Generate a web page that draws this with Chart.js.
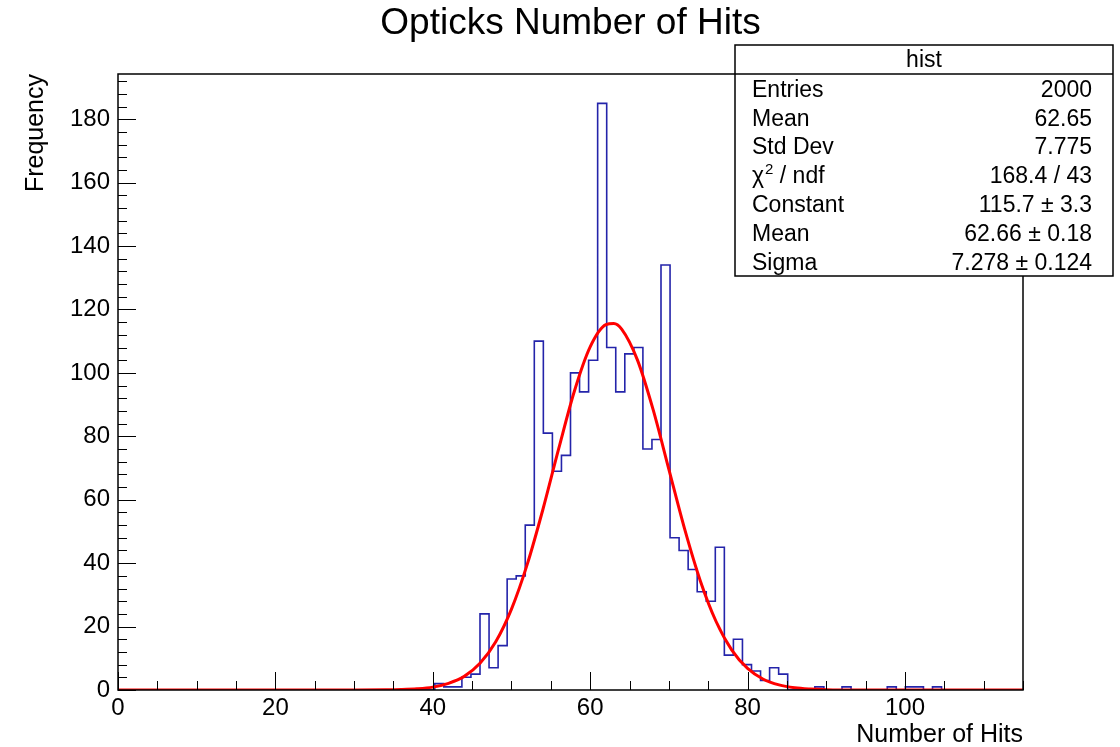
<!DOCTYPE html>
<html>
<head>
<meta charset="utf-8">
<script src="https://cdn.jsdelivr.net/npm/chart.js@4.4.1/dist/chart.umd.min.js"></script>
<style>
  html, body { margin: 0; background: #fff; }
  #wrap { width: 1120px; height: 747px; }
</style>
</head>
<body>
<div id="wrap"><canvas id="hitsChart"></canvas></div>
<script>
// histogram binning (100 bins from 0 to 115)
const xMin = 0;
const xMax = 115;
const nBins = 100;
const yMax = 194.25;

// bin contents, bin 0 .. bin 99
const counts = [
  0, 0, 0, 0, 0, 0, 0, 0, 0, 0,
  0, 0, 0, 0, 0, 0, 0, 0, 0, 0,
  0, 0, 0, 0, 0, 0, 0, 0, 0, 0,
  0, 0, 0, 0, 0, 2, 1, 1, 4, 5,
  24, 7, 14, 35, 36, 52, 110, 81, 69, 74,
  100, 94, 104, 185, 108, 94, 106, 108, 76, 79,
  134, 48, 44, 38, 31, 28, 45, 11, 16, 8,
  6, 3, 7, 5, 0, 0, 0, 1, 0, 0,
  1, 0, 0, 0, 0, 1, 0, 1, 1, 0,
  1, 0, 0, 0, 0, 0, 0, 0, 0, 0
];

// gaussian fit curve
const fitX = [0, 30, 34, 36, 38, 40, 42, 44, 46, 48, 50, 52, 54, 56, 58, 60, 62, 63, 64, 66, 68, 70, 72, 74, 76, 78, 80, 82, 84, 86, 88, 90, 94, 115];
const fitY = [0, 0, 0.05, 0.14, 0.37, 0.9, 2.1, 4.3, 8.4, 15.2, 25.5, 39.6, 57, 76.1, 94.3, 108.2, 115.2, 115.6, 113.8, 104.1, 88.4, 69.6, 50.8, 34.4, 21.6, 12.6, 6.8, 3.4, 1.6, 0.7, 0.3, 0.1, 0, 0];

// axis labels
const xTicks = [0, 20, 40, 60, 80, 100];
const yTicks = [0, 20, 40, 60, 80, 100, 120, 140, 160, 180];

// stats box
const statsTitle = "hist";
const statsLabels = ["Entries", "Mean", "Std Dev", "CHI2", "Constant", "Mean", "Sigma"];
const statsValues = ["2000", "62.65", "7.775", "168.4 / 43", "115.7 \u00b1 3.3", "62.66 \u00b1 0.18", "7.278 \u00b1 0.124"];

const FONT = "'Liberation Sans', Arial, Helvetica, sans-serif";

const binWidth = (xMax - xMin) / nBins;
const histPoints = counts.map((c, i) => ({ x: xMin + i * binWidth, y: c }));
histPoints.push({ x: xMax, y: counts[nBins - 1] });
const fitPoints = fitX.map((x, i) => ({ x: x, y: fitY[i] }));

// ROOT style frame with inward ticks
const framePlugin = {
  id: "frame",
  afterDatasetsDraw(chart) {
    const { ctx, chartArea: { left, right, top, bottom }, scales: { x, y } } = chart;
    ctx.save();
    ctx.strokeStyle = "#000";
    ctx.lineWidth = 1;
    ctx.beginPath();
    for (let v = xMin; v <= xMax + 1e-9; v += 5) {
      const px = Math.round(x.getPixelForValue(v)) + 0.5;
      const len = v % 20 === 0 ? 18 : 9;
      ctx.moveTo(px, bottom);
      ctx.lineTo(px, bottom - len);
    }
    for (let v = 0; v <= yMax; v += 4) {
      const py = Math.round(y.getPixelForValue(v)) + 0.5;
      const len = v % 20 === 0 ? 18 : 9;
      ctx.moveTo(left, py);
      ctx.lineTo(left + len, py);
    }
    ctx.stroke();
    ctx.lineWidth = 1.5;
    ctx.strokeRect(left, top, right - left, bottom - top);
    ctx.restore();
  }
};

const statsPlugin = {
  id: "stats",
  afterDraw(chart) {
    const ctx = chart.ctx;
    const bx = 735, by = 45, bw = 378, bh = 231, headH = 29;
    ctx.save();
    ctx.fillStyle = "#fff";
    ctx.fillRect(bx, by, bw, bh);
    ctx.strokeStyle = "#000";
    ctx.lineWidth = 1.5;
    ctx.strokeRect(bx, by, bw, bh);
    ctx.beginPath();
    ctx.moveTo(bx, by + headH);
    ctx.lineTo(bx + bw, by + headH);
    ctx.stroke();

    ctx.fillStyle = "#000";
    ctx.textBaseline = "middle";
    ctx.font = "23px " + FONT;
    ctx.textAlign = "center";
    ctx.fillText(statsTitle, bx + bw / 2, by + headH / 2 + 1);

    const rowH = (bh - headH) / statsLabels.length;
    statsLabels.forEach((lab, i) => {
      const cy = by + headH + rowH * (i + 0.5) + 2;
      ctx.font = "23px " + FONT;
      ctx.textAlign = "left";
      if (lab === "CHI2") {
        let tx = bx + 17;
        ctx.fillText("\u03c7", tx, cy);
        tx += ctx.measureText("\u03c7").width + 1;
        ctx.font = "15px " + FONT;
        ctx.fillText("2", tx, cy - 7);
        tx += ctx.measureText("2").width;
        ctx.font = "23px " + FONT;
        ctx.fillText(" / ndf", tx, cy);
      } else {
        ctx.fillText(lab, bx + 17, cy);
      }
      ctx.textAlign = "right";
      ctx.fillText(statsValues[i], bx + bw - 21, cy);
    });
    ctx.restore();
  }
};

const ctx = document.getElementById("hitsChart").getContext("2d");
new Chart(ctx, {
  type: "line",
  data: {
    datasets: [
      {
        label: "fit",
        data: fitPoints,
        borderColor: "#ff0000",
        borderWidth: 3,
        pointRadius: 0,
        cubicInterpolationMode: "monotone",
        order: 0
      },
      {
        label: "hist",
        data: histPoints,
        borderColor: "#2424aa",
        borderWidth: 1.6,
        pointRadius: 0,
        stepped: "before",
        order: 1
      }
    ]
  },
  options: {
    animation: false,
    responsive: true,
    maintainAspectRatio: false,
    layout: { padding: { left: 0, right: 97, top: 0, bottom: 0 } },
    plugins: {
      legend: { display: false },
      tooltip: { enabled: false },
      title: {
        display: true,
        text: "Opticks Number of Hits",
        color: "#000",
        fullSize: false,
        font: { family: FONT, size: 37, weight: "normal", lineHeight: 1.2 },
        padding: { top: 2, bottom: 27.6 }
      }
    },
    scales: {
      x: {
        type: "linear",
        min: xMin,
        max: xMax,
        grid: { display: false, drawTicks: false },
        border: { display: false },
        afterBuildTicks: (s) => { s.ticks = xTicks.map(v => ({ value: v })); },
        afterFit: (s) => { s.height = 57; },
        ticks: { color: "#000", autoSkip: false, maxRotation: 0, padding: 4, font: { family: FONT, size: 24 } },
        title: {
          display: true,
          text: "Number of Hits",
          align: "end",
          color: "#000",
          font: { family: FONT, size: 25, lineHeight: 0.8 },
          padding: { top: 0, bottom: 2 }
        }
      },
      y: {
        type: "linear",
        min: 0,
        max: yMax,
        grid: { display: false, drawTicks: false },
        border: { display: false },
        afterBuildTicks: (s) => { s.ticks = yTicks.map(v => ({ value: v })); },
        afterFit: (s) => { s.width = 118; },
        ticks: { color: "#000", autoSkip: false, padding: 8, font: { family: FONT, size: 24 } },
        title: {
          display: true,
          text: "Frequency",
          align: "end",
          color: "#000",
          font: { family: FONT, size: 25, lineHeight: 0.8 },
          padding: { top: 26, bottom: 0 }
        }
      }
    }
  },
  plugins: [framePlugin, statsPlugin]
});
</script>
</body>
</html>
